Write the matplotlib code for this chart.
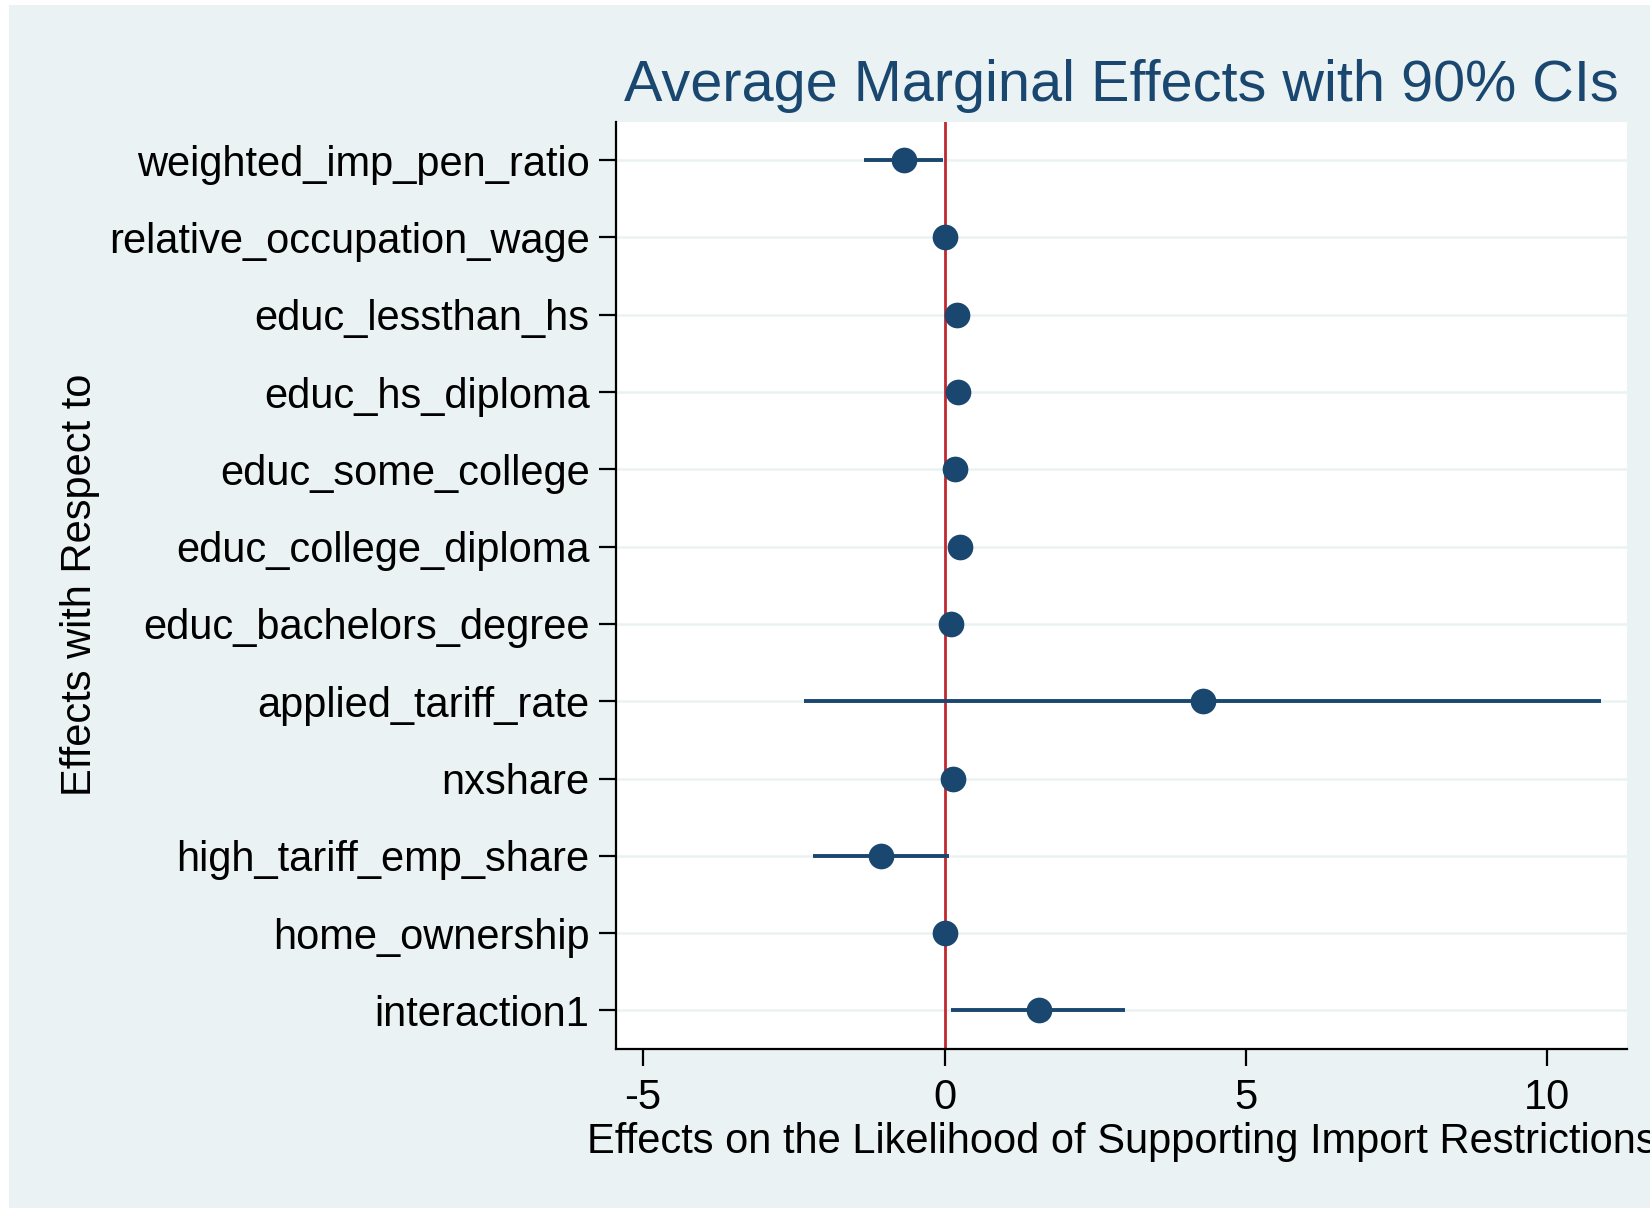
import matplotlib.pyplot as plt
from matplotlib.patches import Rectangle

plt.rcParams['font.family'] = ['Liberation Sans', 'DejaVu Sans']
plt.rcParams['axes.unicode_minus'] = False

# data (average marginal effects, 90% CIs)
labels = ['weighted_imp_pen_ratio', 'relative_occupation_wage', 'educ_lessthan_hs',
          'educ_hs_diploma', 'educ_some_college', 'educ_college_diploma',
          'educ_bachelors_degree', 'applied_tariff_rate', 'nxshare',
          'high_tariff_emp_share', 'home_ownership', 'interaction1']
est = [-0.68, 0.00, 0.20, 0.22, 0.17, 0.25, 0.10, 4.28, 0.14, -1.05, 0.00, 1.56]
ci_lo = [-1.34, -0.05, 0.14, 0.16, 0.11, 0.19, 0.05, -2.33, 0.09, -2.18, -0.05, 0.11]
ci_hi = [-0.02, 0.05, 0.26, 0.28, 0.23, 0.31, 0.15, 10.89, 0.19, 0.08, 0.05, 3.00]
xticks = [-5, 0, 5, 10]

bg = '#EAF2F3'
navy = '#1A476F'

fig = plt.figure(figsize=(16.5, 12.08), dpi=100)
fig.patch.set_facecolor('white')
fig.patches.append(Rectangle((9 / 1650, 0), 1, 1 - 5 / 1208, transform=fig.transFigure,
                             facecolor=bg, edgecolor='none', zorder=-10))

ax = fig.add_axes([0.3733, 0.1316, 0.6128, 0.7678])
ax.set_facecolor('white')

ypos = list(range(1, len(labels) + 1))

for y in ypos:
    ax.axhline(y, color=bg, lw=1.8, zorder=1)
ax.axvline(0, color='#C0282F', lw=2.0, zorder=2)

for y, lo, hi in zip(ypos, ci_lo, ci_hi):
    ax.plot([lo, hi], [y, y], color=navy, lw=2.8, solid_capstyle='butt', zorder=3)
ax.plot(est, ypos, 'o', color=navy, markersize=18.5, markeredgewidth=0, zorder=4)

ax.set_xlim(-5.45, 11.32)
ax.set_ylim(12.5, 0.5)
ax.set_xticks(xticks)
ax.set_xticklabels([str(t) for t in xticks])
ax.set_yticks(ypos)
ax.set_yticklabels(labels)

ax.tick_params(axis='both', labelsize=30, length=12, width=1.6, color='black')
ax.tick_params(axis='y', pad=7)
ax.tick_params(axis='x', pad=9)

for side in ['top', 'right']:
    ax.spines[side].set_visible(False)
for side in ['left', 'bottom']:
    ax.spines[side].set_linewidth(1.6)
    ax.spines[side].set_color('black')

ax.set_xlabel('Effects on the Likelihood of Supporting Import Restrictions', fontsize=30)
ax.xaxis.set_label_coords(0.5, -0.079)
ax.set_ylabel('Effects with Respect to', fontsize=30)
ax.yaxis.set_label_coords(-0.51, 0.5)

ax.set_title('Average Marginal Effects with 90% CIs', fontsize=41.5, color=navy,
             y=1.0226, pad=0)

fig.savefig('out.png', dpi=100, facecolor=fig.get_facecolor())
